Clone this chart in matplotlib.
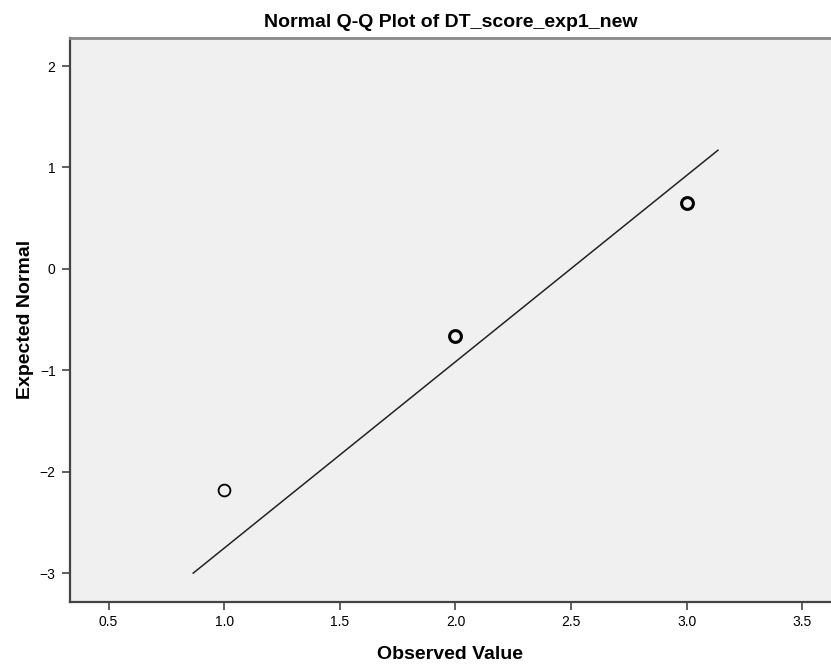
import numpy as np
import matplotlib.pyplot as plt

# observed values and their expected normal scores
observed = [1.0, 2.0, 3.0]
expected = [-2.18, -0.665, 0.645]
edge_w = [1.3, 2.2, 2.2]

# reference line end points
line_x = [0.866, 3.135]
line_y = [-3.0, 1.17]

xticks = [0.5, 1.0, 1.5, 2.0, 2.5, 3.0, 3.5]
yticks = [-3, -2, -1, 0, 1, 2]

plt.rcParams['font.family'] = ['Liberation Sans', 'DejaVu Sans']

fig = plt.figure(figsize=(8.31, 6.64), dpi=100)
ax = fig.add_axes([69.5/831, 1-601.5/664, 1-69.5/831, (601.5-37.7)/664])
ax.set_facecolor('#f0f0f0')

ax.plot(line_x, line_y, color='#222222', lw=1.1)
for x, y, w in zip(observed, expected, edge_w):
    ax.plot(x, y, 'o', ms=8.5, mfc='none', mec='black', mew=w)

ax.set_xlim(0.331, 3.624)
ax.set_ylim(-3.28, 2.28)
ax.set_xticks(xticks)
ax.set_xticklabels(['%.1f' % t for t in xticks])
ax.set_yticks(yticks)
ax.set_yticklabels([str(t).replace('-', '\u2212') for t in yticks])
ax.tick_params(direction='out', length=6, width=1.2, color='#444444',
               labelsize=10, pad=4)

for s in ['left', 'bottom']:
    ax.spines[s].set_color('#444444')
    ax.spines[s].set_linewidth(1.6)
ax.spines['top'].set_color('#888888')
ax.spines['top'].set_linewidth(2)
ax.spines['right'].set_visible(False)

ax.set_xlabel('Observed Value', fontsize=14, fontweight='bold', labelpad=12)
ax.set_ylabel('Expected Normal', fontsize=14, fontweight='bold', labelpad=4)
ax.set_title('Normal Q-Q Plot of DT_score_exp1_new', fontsize=14,
             fontweight='bold', pad=8)

plt.savefig('out.png', dpi=100)
